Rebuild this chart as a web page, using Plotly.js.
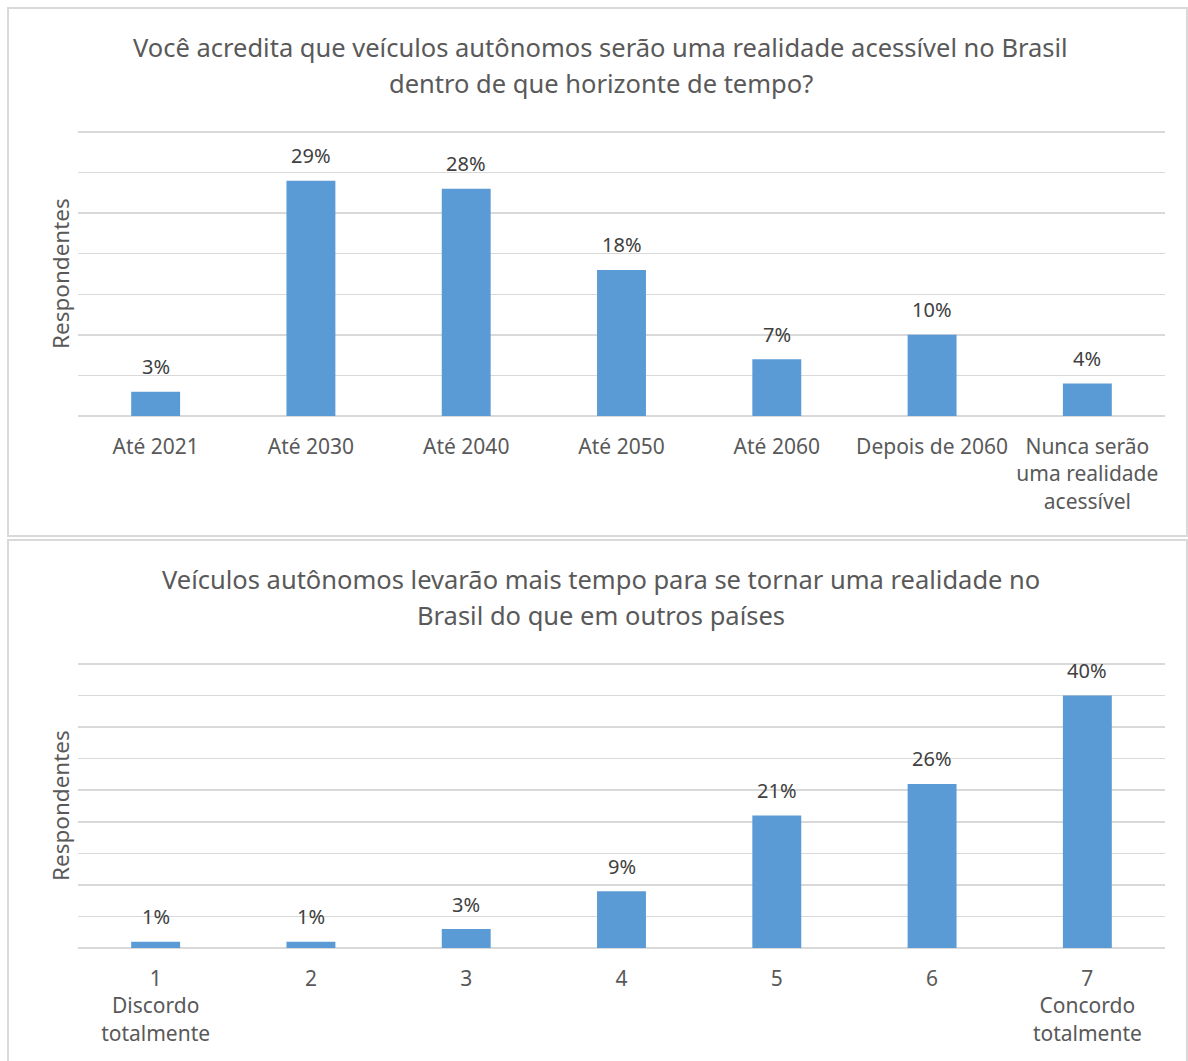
<!DOCTYPE html>
<html>
<head>
<meta charset="utf-8">
<script src="https://cdn.plot.ly/plotly-3.0.1.min.js"></script>
<style>
  html, body { margin: 0; padding: 0; background: #ffffff; }
  #chart { width: 1188px; height: 1061px; }
</style>
</head>
<body>
<div id="chart"></div>
<script>
// Horizonte de tempo para veículos autônomos acessíveis no Brasil
const horizonCategories = ['Até 2021', 'Até 2030', 'Até 2040', 'Até 2050', 'Até 2060', 'Depois de 2060', 'Nunca serão<br>uma realidade<br>acessível'];
const horizonValues = [3, 29, 28, 18, 7, 10, 4];

// Escala de concordância (1 a 7)
const agreeCategories = ['1<br>Discordo<br>totalmente', '2', '3', '4', '5', '6', '7<br>Concordo<br>totalmente'];
const agreeValues = [1, 1, 3, 9, 21, 26, 40];

const title1Lines = ['Você acredita que veículos autônomos serão uma realidade acessível no Brasil', 'dentro de que horizonte de tempo?'];
const title2Lines = ['Veículos autônomos levarão mais tempo para se tornar uma realidade no', 'Brasil do que em outros países'];
const yTitle = 'Respondentes';

const W = 1188, H = 1061;
const FONT = 'Noto Sans, sans-serif';
const TEXT = '#595959';
const LABEL = '#404040';
const BAR = '#5b9bd5';
const GRID = '#d9d9d9';

const px = v => v / W;
const py = v => 1 - v / H;

function barTrace(cats, vals, xa, ya) {
  return {
    type: 'bar',
    x: cats,
    y: vals,
    xaxis: xa,
    yaxis: ya,
    marker: { color: BAR },
    hoverinfo: 'skip'
  };
}

const data = [
  barTrace(horizonCategories, horizonValues, 'x', 'y'),
  barTrace(agreeCategories, agreeValues, 'x2', 'y2')
];

// value labels sitting above each bar (x given as category index)
function valueLabels(vals, xa, ya) {
  return vals.map((v, i) => ({
    text: v + '%',
    xref: xa, yref: ya,
    x: i, y: v,
    yshift: 25,
    xanchor: 'center', yanchor: 'middle',
    showarrow: false,
    font: { family: FONT, size: 20, color: LABEL }
  }));
}

function titleLines(lines, ys) {
  return lines.map((t, i) => ({
    text: t, xref: 'paper', yref: 'paper',
    x: px(601), y: py(ys[i]), xanchor: 'center', yanchor: 'middle',
    showarrow: false, font: { family: FONT, size: 25.5, color: TEXT }
  }));
}

function xAxis(domain, anchor) {
  return {
    domain: domain,
    anchor: anchor,
    type: 'category',
    showgrid: false,
    showline: false,
    zeroline: false,
    ticks: '',
    ticklabelstandoff: 16,
    tickfont: { family: FONT, size: 21, color: TEXT },
    fixedrange: true
  };
}

// the axis runs a little past its last gridline so that line is drawn inside the plot
function yAxis(bottomPx, lastGridPx, max, anchor) {
  const headroom = 1;
  const unit = (bottomPx - lastGridPx) / max;
  const topPx = lastGridPx - headroom * unit;
  return {
    domain: [py(bottomPx), py(topPx)],
    anchor: anchor,
    range: [0, max + headroom],
    dtick: 5,
    tick0: 0,
    showticklabels: false,
    ticks: '',
    showgrid: true,
    gridcolor: GRID,
    gridwidth: 1.5,
    zeroline: true,
    zerolinecolor: GRID,
    zerolinewidth: 1.5,
    showline: false,
    fixedrange: true
  };
}

const xDom = [px(78), px(1165)];

const layout = {
  width: W,
  height: H,
  margin: { l: 0, r: 0, t: 0, b: 0 },
  paper_bgcolor: '#ffffff',
  plot_bgcolor: '#ffffff',
  showlegend: false,
  bargap: 0.685,
  font: { family: FONT, color: TEXT },
  xaxis: xAxis(xDom, 'y'),
  yaxis: yAxis(416, 132, 35, 'x'),
  xaxis2: xAxis(xDom, 'y2'),
  yaxis2: yAxis(948, 664, 45, 'x2'),
  shapes: [
    { type: 'rect', xref: 'paper', yref: 'paper', x0: px(8), x1: px(1187), y0: py(8), y1: py(536),
      line: { color: GRID, width: 2 }, fillcolor: 'rgba(0,0,0,0)' },
    { type: 'rect', xref: 'paper', yref: 'paper', x0: px(8), x1: px(1187), y0: py(540), y1: py(1064),
      line: { color: GRID, width: 2 }, fillcolor: 'rgba(0,0,0,0)' }
  ],
  annotations: [].concat(
    titleLines(title1Lines, [47, 83]),
    titleLines(title2Lines, [579, 615]),
    [
      { text: yTitle, xref: 'paper', yref: 'paper', x: px(60), y: py(274), xanchor: 'center', yanchor: 'middle',
        textangle: -90, showarrow: false, font: { family: FONT, size: 22.5, color: TEXT } },
      { text: yTitle, xref: 'paper', yref: 'paper', x: px(60), y: py(806), xanchor: 'center', yanchor: 'middle',
        textangle: -90, showarrow: false, font: { family: FONT, size: 22.5, color: TEXT } }
    ],
    valueLabels(horizonValues, 'x', 'y'),
    valueLabels(agreeValues, 'x2', 'y2')
  )
};

Plotly.newPlot('chart', data, layout, { displayModeBar: false, staticPlot: true });
</script>
</body>
</html>
